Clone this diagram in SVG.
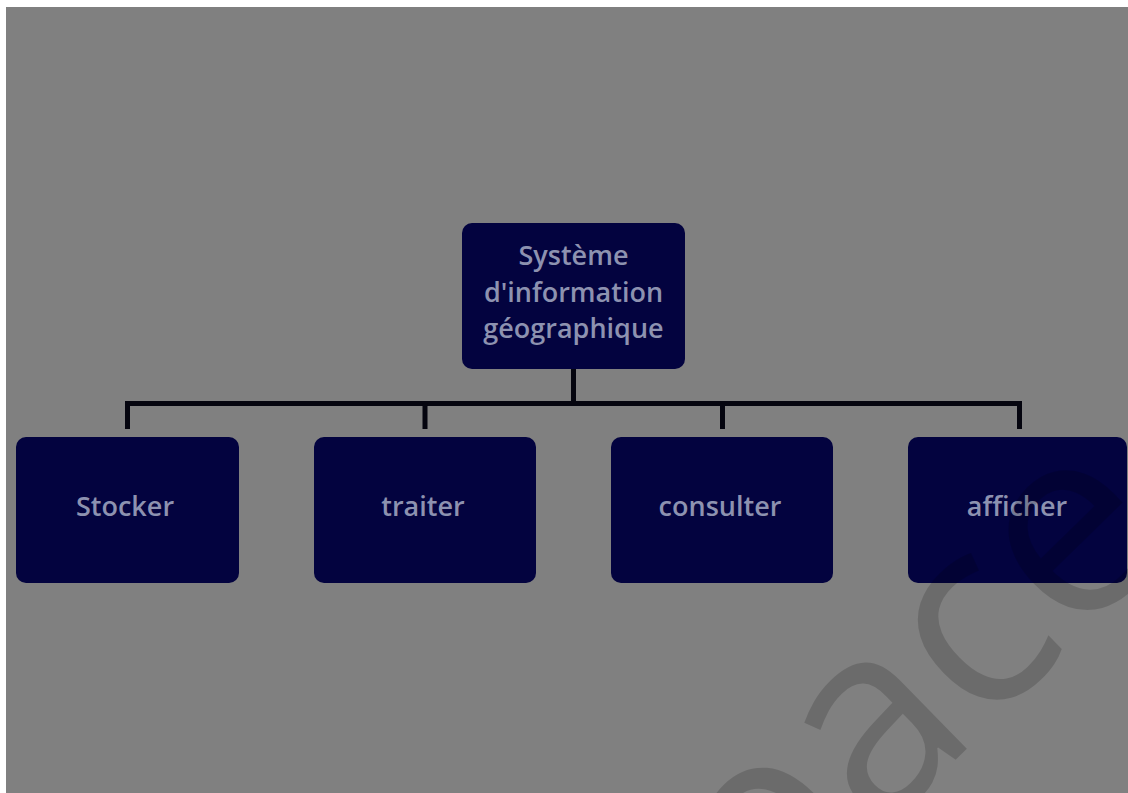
<svg xmlns="http://www.w3.org/2000/svg" width="1128" height="793" viewBox="0 0 1128 793">
  <style>
    .box { fill: #03033f; }
    .lbl { font-family: "Open Sans", "Liberation Sans", sans-serif; font-size: 27px; font-weight: 600; fill: #8d92b0; text-anchor: middle; }
    .conn { stroke: #05050f; stroke-width: 5; fill: none; stroke-linecap: butt; }
    .wm { font-family: "Open Sans", "Liberation Sans", sans-serif; font-size: 265px; fill: #000; fill-opacity: 0.16; }
  </style>
  <rect x="0" y="0" width="1128" height="793" fill="#ffffff"/>
  <rect x="6" y="7" width="1122" height="786" fill="#808080"/>

  <g id="connectors">
    <path class="conn" d="M573.5 369 V403.5"/>
    <path class="conn" d="M127.5 429 V403.5 H1019.5 V429"/>
    <path class="conn" d="M425 403.5 V429"/>
    <path class="conn" d="M722.5 403.5 V429"/>
  </g>

  <g id="node-sig">
    <rect class="box" x="462" y="223" width="223" height="146" rx="10"/>
    <text class="lbl" x="573.5" y="265">Système</text>
    <text class="lbl" x="573.5" y="302">d'information</text>
    <text class="lbl" x="573.5" y="338">géographique</text>
  </g>
  <g id="node-stocker">
    <rect class="box" x="16" y="437" width="223" height="146" rx="10"/>
    <text class="lbl" x="125" y="516">Stocker</text>
  </g>
  <g id="node-traiter">
    <rect class="box" x="314" y="437" width="222" height="146" rx="10"/>
    <text class="lbl" x="423" y="516">traiter</text>
  </g>
  <g id="node-consulter">
    <rect class="box" x="611" y="437" width="222" height="146" rx="10"/>
    <text class="lbl" x="720" y="516">consulter</text>
  </g>
  <g id="node-afficher">
    <rect class="box" x="908" y="437" width="219" height="146" rx="10"/>
    <text class="lbl" x="1017" y="516">afficher</text>
  </g>

  <text class="wm" transform="translate(880,733) rotate(-44.4)" x="-363" y="72">space</text>
</svg>
